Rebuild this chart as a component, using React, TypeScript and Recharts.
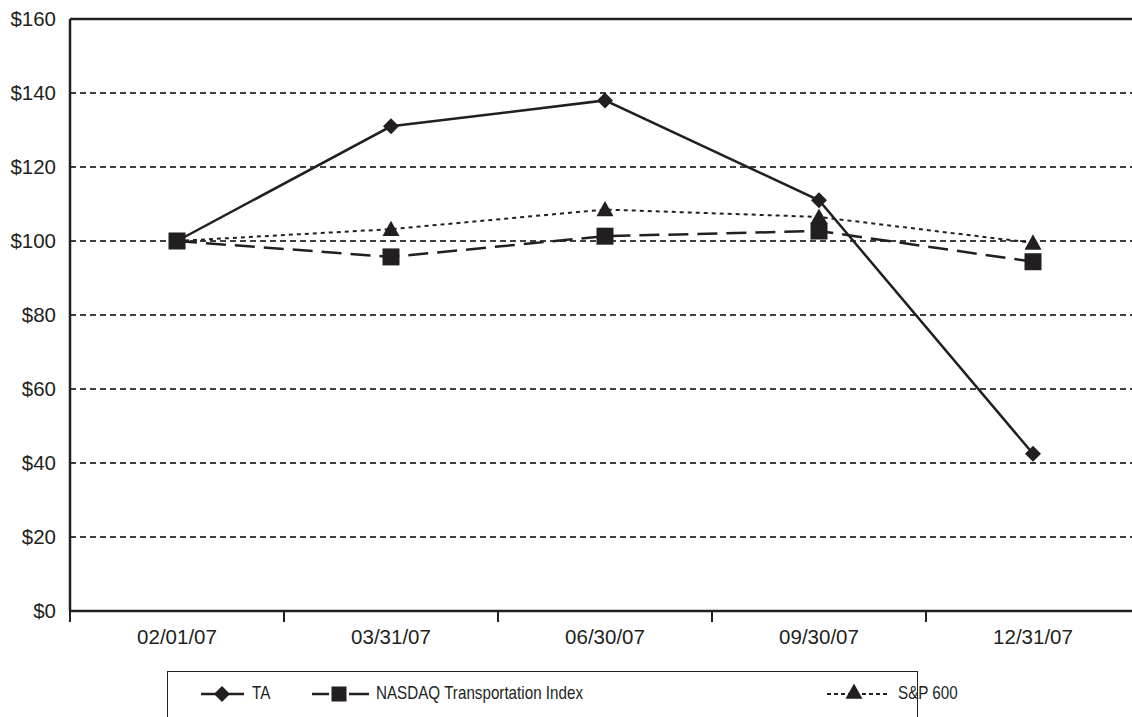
import { LineChart, Line, XAxis, YAxis, CartesianGrid, ReferenceLine, Legend } from "recharts"

const dates = ["02/01/07", "03/31/07", "06/30/07", "09/30/07", "12/31/07"]
const taValues = [100, 131, 138, 111, 42.5]
const nasdaqValues = [100, 95.7, 101.3, 102.7, 94.4]
const sp600Values = [100, 103.2, 108.5, 106.5, 99.5]
const yTicks = [0, 20, 40, 60, 80, 100, 120, 140, 160]
const xTicks = [-0.5, 0, 0.5, 1, 1.5, 2, 2.5, 3, 3.5, 4, 4.5]

const data = dates.map((date, i) => ({
  idx: i,
  date,
  ta: taValues[i],
  nasdaq: nasdaqValues[i],
  sp600: sp600Values[i],
}))

const ink = "#231f20"
const font = "'Liberation Sans', Arial, Helvetica, sans-serif"

const Diamond = ({ cx, cy, size = 8 }: any) => (
  <polygon points={`${cx},${cy - size} ${cx + size},${cy} ${cx},${cy + size} ${cx - size},${cy}`} fill={ink} />
)
const Square = ({ cx, cy, size = 8.5 }: any) => (
  <rect x={cx - size} y={cy - size} width={size * 2} height={size * 2} fill={ink} />
)
const Triangle = ({ cx, cy, size = 8.5 }: any) => (
  <polygon points={`${cx},${cy - size} ${cx + size},${cy + size * 0.8} ${cx - size},${cy + size * 0.8}`} fill={ink} />
)

function XTick({ x, y, payload }: any) {
  const v = payload.value
  if (Number.isInteger(v)) {
    return (
      <text x={x} y={y + 33} textAnchor="middle" fill={ink} fontSize={20.5} fontFamily={font}>
        {dates[v]}
      </text>
    )
  }
  return <line x1={x} x2={x} y1={y} y2={y + 11} stroke={ink} strokeWidth={2} />
}

const labelStyle = {
  position: "absolute" as const,
  top: 10,
  whiteSpace: "nowrap" as const,
  transform: "scaleX(0.8)",
  transformOrigin: "left center",
}

function LegendBox() {
  return (
    <div style={{ position: "relative", width: 751, height: 60, border: `1.5px solid ${ink}`, boxSizing: "border-box", background: "#fff", fontFamily: font, fontSize: 19, color: ink }}>
      <svg width={751} height={50} style={{ position: "absolute", left: 0, top: 0 }}>
        <line x1={33} x2={76} y1={22} y2={22} stroke={ink} strokeWidth={2.5} />
        <Diamond cx={54} cy={22} size={8} />
        <line x1={144} x2={161} y1={22} y2={22} stroke={ink} strokeWidth={2.5} />
        <line x1={181} x2={201} y1={22} y2={22} stroke={ink} strokeWidth={2.5} />
        <Square cx={171} cy={22} size={7.5} />
        <line x1={659} x2={721} y1={22} y2={22} stroke={ink} strokeWidth={2} strokeDasharray="4 3" />
        <Triangle cx={686} cy={20} size={8.5} />
      </svg>
      <span style={{ ...labelStyle, left: 84 }}>TA</span>
      <span style={{ ...labelStyle, left: 208 }}>NASDAQ Transportation Index</span>
      <span style={{ ...labelStyle, left: 730 }}>S&amp;P 600</span>
    </div>
  )
}

export default function App() {
  return (
    <div style={{ position: "absolute", left: 0, top: 0, width: 1132, height: 717, overflow: "hidden", background: "#fff" }}>
      <LineChart width={1140} height={717} data={data} margin={{ top: 19, right: 0, bottom: 66, left: 0 }}>
        <CartesianGrid vertical={false} stroke="#000" strokeWidth={1.3} strokeDasharray="6 4" />
        <XAxis
          dataKey="idx"
          type="number"
          domain={[-0.5, 4.5]}
          ticks={xTicks}
          interval={0}
          height={40}
          tickSize={0}
          tickMargin={0}
          tickLine={false}
          axisLine={{ stroke: ink, strokeWidth: 2.5 }}
          tick={<XTick />}
        />
        <YAxis
          type="number"
          domain={[0, 160]}
          ticks={yTicks}
          width={70}
          tickSize={0}
          tickMargin={14}
          tickLine={false}
          axisLine={{ stroke: ink, strokeWidth: 2.5 }}
          tickFormatter={(v) => `$${v}`}
          tick={{ fill: ink, fontSize: 20.5, fontFamily: font }}
        />
        <ReferenceLine y={160} stroke={ink} strokeWidth={2.5} />
        <Legend
          layout="vertical"
          verticalAlign="middle"
          align="center"
          content={<LegendBox />}
          wrapperStyle={{ left: 167, top: 671, width: 751, height: 60 }}
        />
        <Line
          dataKey="ta"
          name="TA"
          stroke={ink}
          strokeWidth={2.5}
          dot={(p: any) => <Diamond key={`ta-${p.index}`} cx={p.cx} cy={p.cy} />}
          isAnimationActive={false}
        />
        <Line
          dataKey="sp600"
          name="S&P 600"
          stroke={ink}
          strokeWidth={2}
          strokeDasharray="4 4"
          dot={(p: any) => <Triangle key={`sp-${p.index}`} cx={p.cx} cy={p.cy} />}
          isAnimationActive={false}
        />
        <Line
          dataKey="nasdaq"
          name="NASDAQ Transportation Index"
          stroke={ink}
          strokeWidth={2.5}
          strokeDasharray="20 9"
          dot={(p: any) => <Square key={`nq-${p.index}`} cx={p.cx} cy={p.cy} />}
          isAnimationActive={false}
        />
      </LineChart>
    </div>
  )
}
